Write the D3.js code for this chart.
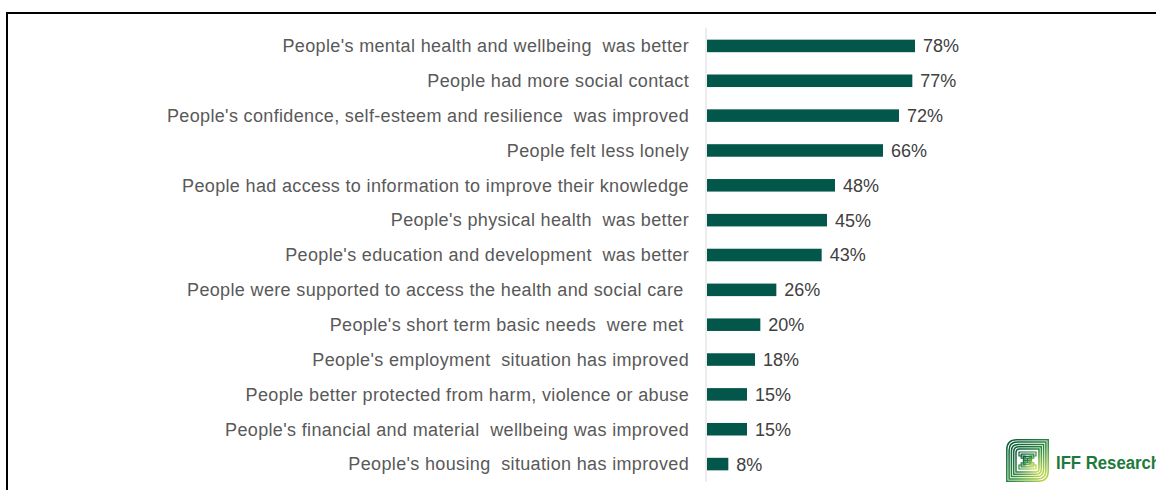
<!DOCTYPE html>
<html>
<head>
<meta charset="utf-8">
<script src="https://cdn.jsdelivr.net/npm/d3@7/dist/d3.min.js"></script>
<style>
  html, body { margin: 0; padding: 0; background: #fff; }
  svg { display: block; }
  text { font-family: "Liberation Sans", Arial, sans-serif; }
</style>
</head>
<body>
<svg id="chart" width="1156" height="490"></svg>
<script>
// Outcomes reported, share of respondents (%)
const categories = [
  "People's mental health and wellbeing  was better",
  "People had more social contact",
  "People's confidence, self-esteem and resilience  was improved",
  "People felt less lonely",
  "People had access to information to improve their knowledge",
  "People's physical health  was better",
  "People's education and development  was better",
  "People were supported to access the health and social care ",
  "People's short term basic needs  were met ",
  "People's employment  situation has improved",
  "People better protected from harm, violence or abuse",
  "People's financial and material  wellbeing was improved",
  "People's housing  situation has improved"
];
const values = [78, 77, 72, 66, 48, 45, 43, 26, 20, 18, 15, 15, 8];

const svg = d3.select("#chart");

// frame
svg.append("path")
  .attr("d", "M7,500 L7,13 L1170,13")
  .attr("fill", "none")
  .attr("stroke", "#000")
  .attr("stroke-width", 2);

const x0 = 707;
const x = d3.scaleLinear().domain([0, 78]).range([x0, 915]);
const y = d3.scaleBand()
  .domain(categories)
  .range([28.5, 481.5])
  .paddingInner(0.64)
  .paddingOuter(0.32);

// vertical baseline
svg.append("line")
  .attr("x1", 706).attr("x2", 706)
  .attr("y1", 28).attr("y2", 482)
  .attr("stroke", "#d9d9d9")
  .attr("stroke-width", 1);

const rows = categories.map((c, i) => ({ c, v: values[i] }));

svg.selectAll("rect.bar")
  .data(rows)
  .join("rect")
  .attr("class", "bar")
  .attr("x", x(0))
  .attr("y", d => y(d.c))
  .attr("width", d => x(d.v) - x(0))
  .attr("height", y.bandwidth())
  .attr("fill", "#03574a");

svg.selectAll("text.cat")
  .data(rows)
  .join("text")
  .attr("class", "cat")
  .attr("x", 689)
  .attr("y", d => y(d.c) + y.bandwidth() / 2)
  .attr("dy", "0.35em")
  .attr("text-anchor", "end")
  .style("white-space", "pre")
  .style("letter-spacing", "0.35px")
  .attr("font-size", 18)
  .attr("fill", "#595959")
  .text(d => d.c);

svg.selectAll("text.val")
  .data(rows)
  .join("text")
  .attr("class", "val")
  .attr("x", d => x(d.v) + 8)
  .attr("y", d => y(d.c) + y.bandwidth() / 2)
  .attr("dy", "0.36em")
  .attr("font-size", 18)
  .attr("fill", "#404040")
  .text(d => d.v + "%");

// IFF Research logo
const defs = svg.append("defs");
const grad = defs.append("linearGradient")
  .attr("id", "logoGrad")
  .attr("x1", "0").attr("y1", "0").attr("x2", "1").attr("y2", "1");
grad.append("stop").attr("offset", "0%").attr("stop-color", "#0b5a3a");
grad.append("stop").attr("offset", "55%").attr("stop-color", "#2e8a3f");
grad.append("stop").attr("offset", "100%").attr("stop-color", "#cfe04c");

const logo = svg.append("g").attr("transform", "translate(1006,439)");
const s = 43;
for (let k = 0; k < 5; k++) {
  const o = 0.8 + k * 2.3;
  const r = 10 - k * 1.6;
  logo.append("path")
    .attr("d", `M${o},${s - o} L${o},${o + r} Q${o},${o} ${o + r},${o} L${s - o},${o} L${s - o},${s - o - r} Q${s - o},${s - o} ${s - o - r},${s - o} Z`)
    .attr("fill", "none")
    .attr("stroke", "url(#logoGrad)")
    .attr("stroke-width", 1.5);
}
// central glyph made of parallel strokes
for (let k = 0; k < 3; k++) {
  const o = k * 2.2;
  logo.append("path")
    .attr("d", `M${13 + o},${13 + o} L${30 - o},${13 + o} L${30 - o},${17 + o} L${24 - o},${17 + o} L${24 - o},${26 - o} L${30 - o},${26 - o} L${30 - o},${30 - o} L${13 + o},${30 - o} L${13 + o},${26 - o} L${19 + o},${26 - o} L${19 + o},${17 + o} L${13 + o},${17 + o} Z`)
    .attr("fill", "none")
    .attr("stroke", "url(#logoGrad)")
    .attr("stroke-width", 1.2);
}

svg.append("text")
  .attr("x", 1056)
  .attr("y", 469)
  .attr("font-weight", "bold")
  .attr("font-size", 18)
  .attr("textLength", 105)
  .attr("lengthAdjust", "spacingAndGlyphs")
  .attr("fill", "#1e7a3c")
  .text("IFF Research");
</script>
</body>
</html>
